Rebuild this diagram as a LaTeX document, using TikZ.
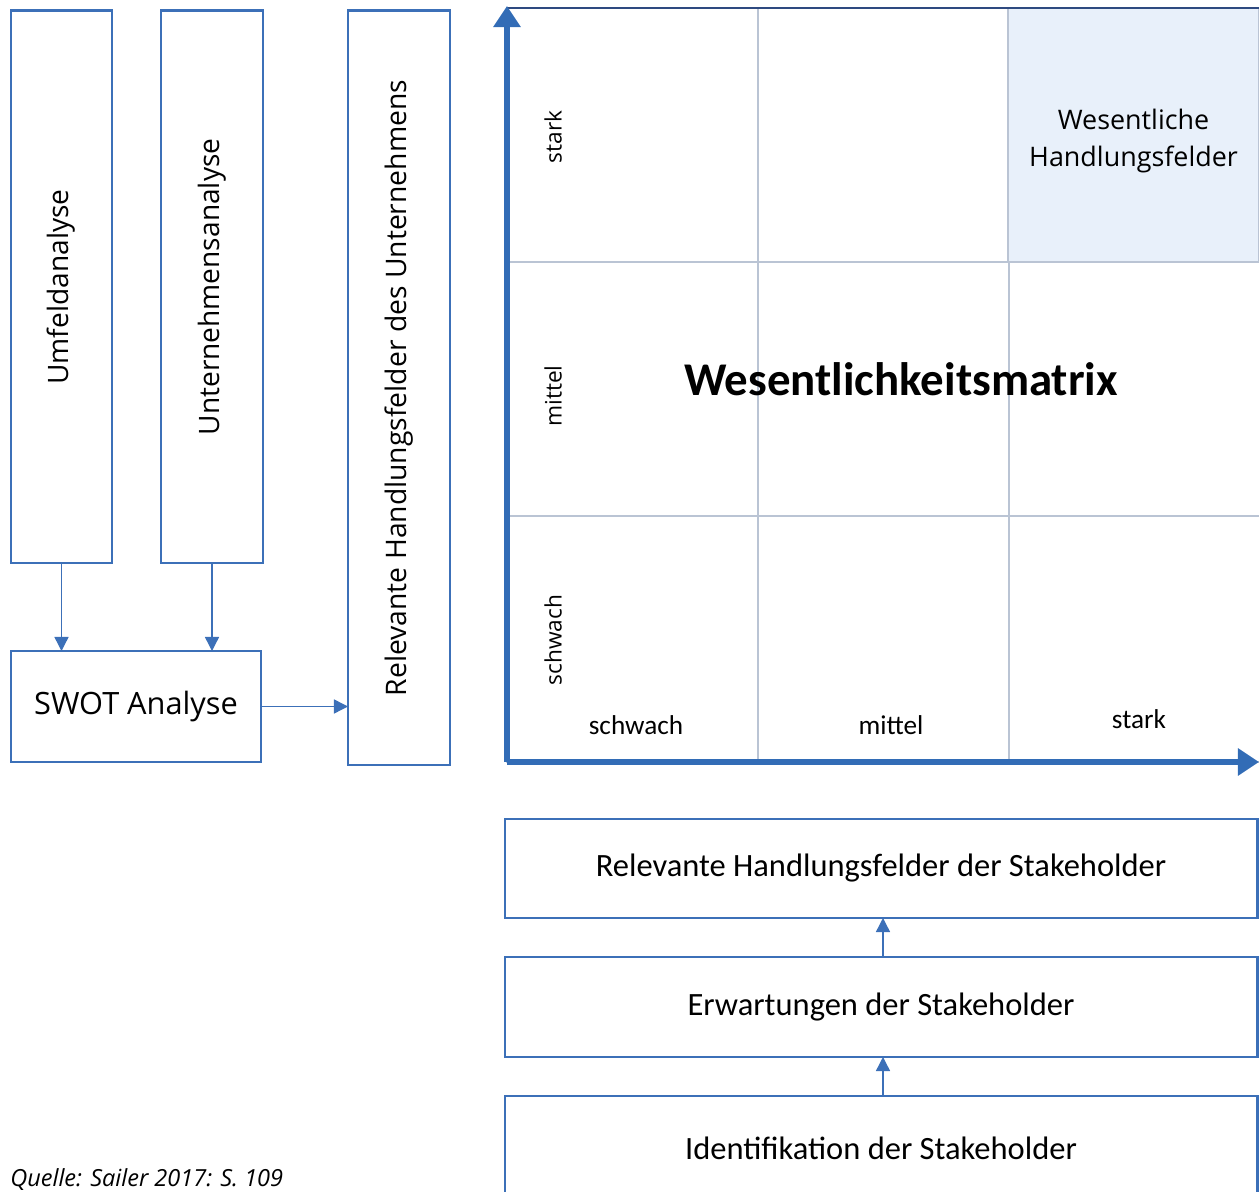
\documentclass[tikz,border=0pt]{standalone}
\usepackage{fontspec}
\setmainfont{Carlito}
\newfontfamily\segoe{Open Sans}
\usetikzlibrary{arrows.meta,positioning}
\definecolor{boxblue}{RGB}{60,112,184}
\definecolor{axisblue}{RGB}{50,108,182}
\definecolor{gridgray}{RGB}{186,196,212}
\definecolor{topblue}{RGB}{46,74,128}
\definecolor{cellfill}{RGB}{232,240,250}
\tikzset{
	stepbox/.style={draw=boxblue, line width=1.7pt, inner sep=0pt, outer sep=0pt, align=center},
	cell/.style={draw=gridgray, line width=0.9pt, inner sep=0pt, outer sep=0pt,
			minimum width={251*0.02cm}},
	flow/.style={draw=boxblue, line width=0.8pt, -{Triangle[width=8pt,length=8pt]}},
	axis/.style={draw=axisblue, line width=3.4pt, -{Triangle[width=15pt,length=12pt]}}
}
\begin{document}
\begin{tikzpicture}[x=0.02cm, y=-0.02cm]
			\useasboundingbox (0,0) rectangle (1259,1192);

			% Analyse boxes
			\node[stepbox, minimum width={101*0.02cm}, minimum height={552*0.02cm}] (umfeld) at (61.5,287)
				{\rotatebox{90}{\segoe\fontsize{16}{18}\selectfont Umfeldanalyse}};
			\node[stepbox, minimum width={102*0.02cm}, minimum height={552*0.02cm}] (unternehmen) at (212,287)
				{\rotatebox{90}{\segoe\fontsize{16}{18}\selectfont Unternehmensanalyse}};
			\node[stepbox, minimum width={250*0.02cm}, minimum height={111*0.02cm}] (swot) at (136,706.5)
				{\segoe\fontsize{17.5}{19}\selectfont SWOT Analyse};
			\node[stepbox, minimum width={102*0.02cm}, minimum height={754*0.02cm}] (relevantU) at (399,388)
				{\rotatebox{90}{\segoe\fontsize{16.1}{18}\selectfont Relevante Handlungsfelder des Unternehmens}};

			\draw[flow] (umfeld.south) -- (umfeld.south |- swot.north);
			\draw[flow] (unternehmen.south) -- (unternehmen.south |- swot.north);
			\draw[flow] (swot.east) -- (swot.east -| relevantU.west);

			% Matrix cells
			\foreach \i in {0,1,2}
				\foreach \j/\cy/\h in {0/135/254, 1/389/254, 2/639/246}
					\node[cell, minimum height={\h*0.02cm}] (cell-\i-\j) at ({507+125.5+251*\i},\cy) {};
			\node[cell, minimum height={254*0.02cm}, fill=cellfill] (cell-2-0) at (1133.5,135) {};
			\node[align=center, font=\segoe\fontsize{15.3}{21.5}\selectfont] (wesentlich) at (cell-2-0.center |- 0,141)
				{Wesentliche\\Handlungsfelder};
			\draw[topblue, line width=1.2pt] (cell-0-0.north west) -- (1259,8);

			% Labels
			\node[rotate=90] (ystark) at (553,137) {\segoe\fontsize{12.9}{15}\selectfont stark};
			\node[rotate=90] (ymittel) at (553,396) {\segoe\fontsize{12.9}{15}\selectfont mittel};
			\node[rotate=90] (yschwach) at (553,640) {\segoe\fontsize{12.9}{15}\selectfont schwach};
			\node (xschwach) at (636,725) {\fontsize{15.5}{18}\selectfont schwach};
			\node (xmittel) at (891,725) {\fontsize{15.5}{18}\selectfont mittel};
			\node (xstark) at (1139,719) {\fontsize{15.5}{18}\selectfont stark};
			\node (titel) at (901,379) {\fontsize{26.7}{30}\selectfont\bfseries Wesentlichkeitsmatrix};

			% Axes
			\coordinate (origin) at (507,762);
			\coordinate (ytip) at (507,6);
			\coordinate (xtip) at (1259,762);
			\draw[axis] (origin) -- (ytip);
			\draw[axis] (origin) -- (xtip);

			% Stakeholder boxes
			\node[stepbox, minimum width={752*0.02cm}, minimum height={99*0.02cm}] (relevantS) at (881,868.5)
				{\fontsize{18.5}{21}\selectfont Relevante Handlungsfelder der Stakeholder};
			\node[stepbox, minimum width={752*0.02cm}, minimum height={100*0.02cm}] (erwartung) at (881,1007)
				{\fontsize{18.5}{21}\selectfont Erwartungen der Stakeholder};
			\node[stepbox, minimum width={752*0.02cm}, minimum height={104*0.02cm}] (ident) at (881,1148)
				{\fontsize{18.5}{21}\selectfont Identifikation der Stakeholder};

			\draw[flow] (erwartung.north -| 883,0) -- (relevantS.south -| 883,0);
			\draw[flow] (ident.north -| 883,0) -- (erwartung.south -| 883,0);

			% Source
			\node[anchor=base west, inner sep=0pt] (quelle) at (10,1186)
				{\segoe\fontsize{13.4}{15}\selectfont\itshape Quelle: Sailer 2017: S. 109};
		\end{tikzpicture}
\end{document}
